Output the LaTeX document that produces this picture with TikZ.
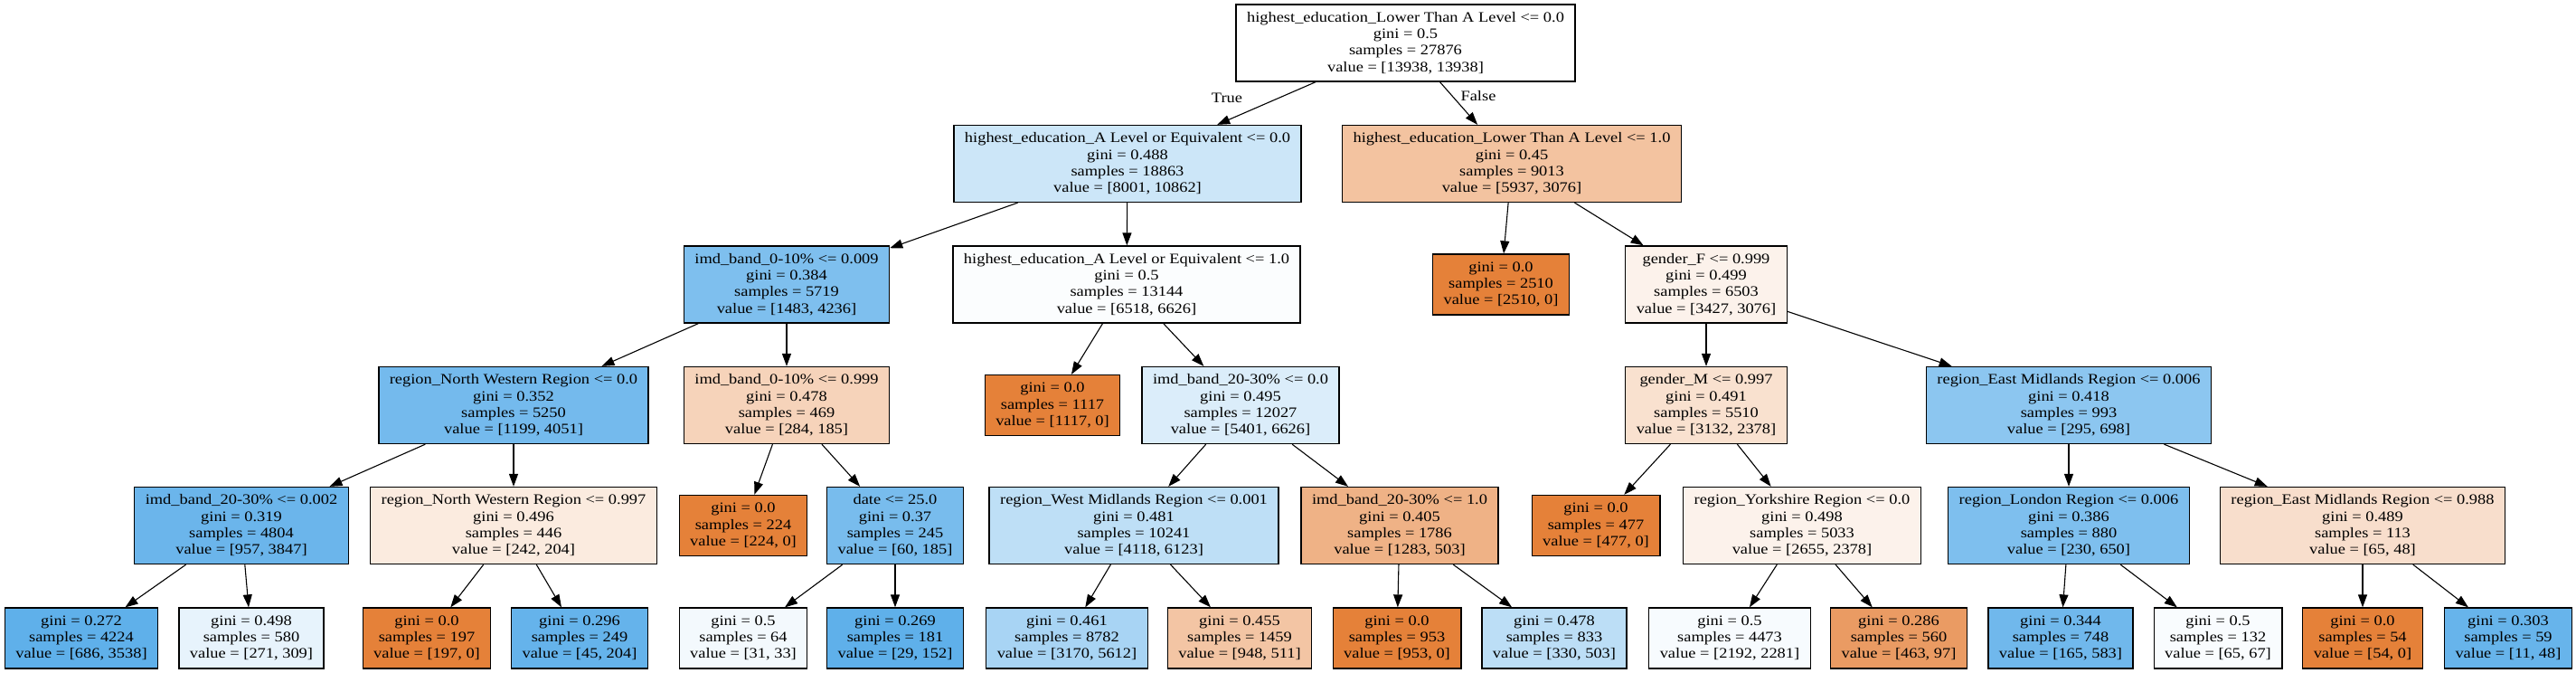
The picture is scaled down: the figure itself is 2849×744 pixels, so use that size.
\documentclass[tikz,border=0pt]{standalone}
\usepackage{fontspec}
\setmainfont{Liberation Serif}[FakeStretch=1.15]
\usepackage{xcolor}
\usepackage{tikz}
\usetikzlibrary{arrows.meta}
\definecolor{orangeclass}{RGB}{229,129,57}
\definecolor{blueclass}{RGB}{57,157,229}

\begin{document}
\begin{tikzpicture}[x=1pt, y=-1pt,
    decision/.style={draw, line width=1.3pt, align=center, inner xsep=12pt, inner ysep=0pt, minimum height=85pt, font=\fontsize{16}{18.3}\selectfont},
    leafbox/.style={decision, minimum height=67pt},
    branch/.style={line width=1.1pt, -{Triangle[length=14pt, width=10pt]}}]
    \useasboundingbox (0,0) rectangle (2849,744);

    % Root
    \node[decision, fill=white] (root) at (1554.5,47.5) {highest\_education\_Lower Than A Level <= 0.0\\gini = 0.5\\samples = 27876\\value = [13938, 13938]};

    % Depth 1
    \node[decision, fill=blueclass!26] (aleq) at (1247,181) {highest\_education\_A Level or Equivalent <= 0.0\\gini = 0.488\\samples = 18863\\value = [8001, 10862]};
    \node[decision, fill=orangeclass!48] (lower) at (1672,181) {highest\_education\_Lower Than A Level <= 1.0\\gini = 0.45\\samples = 9013\\value = [5937, 3076]};

    % Depth 2
    \node[decision, fill=blueclass!65] (imdlow) at (870,314.5) {imd\_band\_0-10\% <= 0.009\\gini = 0.384\\samples = 5719\\value = [1483, 4236]};
    \node[decision, fill=blueclass!2] (aleqb) at (1246,314.5) {highest\_education\_A Level or Equivalent <= 1.0\\gini = 0.5\\samples = 13144\\value = [6518, 6626]};
    \node[leafbox, fill=orangeclass] (leafa) at (1660,314.5) {gini = 0.0\\samples = 2510\\value = [2510, 0]};
    \node[decision, fill=orangeclass!10] (genderf) at (1887,314.5) {gender\_F <= 0.999\\gini = 0.499\\samples = 6503\\value = [3427, 3076]};

    % Depth 3
    \node[decision, fill=blueclass!70] (nwest) at (568,448) {region\_North Western Region <= 0.0\\gini = 0.352\\samples = 5250\\value = [1199, 4051]};
    \node[decision, fill=orangeclass!35] (imdhigh) at (870,448) {imd\_band\_0-10\% <= 0.999\\gini = 0.478\\samples = 469\\value = [284, 185]};
    \node[leafbox, fill=orangeclass] (leafb) at (1164,448) {gini = 0.0\\samples = 1117\\value = [1117, 0]};
    \node[decision, fill=blueclass!18] (imdmid) at (1372,448) {imd\_band\_20-30\% <= 0.0\\gini = 0.495\\samples = 12027\\value = [5401, 6626]};
    \node[decision, fill=orangeclass!24] (genderm) at (1887,448) {gender\_M <= 0.997\\gini = 0.491\\samples = 5510\\value = [3132, 2378]};
    \node[decision, fill=blueclass!58] (emid) at (2288,448) {region\_East Midlands Region <= 0.006\\gini = 0.418\\samples = 993\\value = [295, 698]};

    % Depth 4
    \node[decision, fill=blueclass!75] (imdtwo) at (267,581) {imd\_band\_20-30\% <= 0.002\\gini = 0.319\\samples = 4804\\value = [957, 3847]};
    \node[decision, fill=orangeclass!16] (nwestb) at (568,581) {region\_North Western Region <= 0.997\\gini = 0.496\\samples = 446\\value = [242, 204]};
    \node[leafbox, fill=orangeclass] (leafc) at (822,581) {gini = 0.0\\samples = 224\\value = [224, 0]};
    \node[decision, fill=blueclass!68] (date) at (990,581) {date <= 25.0\\gini = 0.37\\samples = 245\\value = [60, 185]};
    \node[decision, fill=blueclass!33] (wmid) at (1254,581) {region\_West Midlands Region <= 0.001\\gini = 0.481\\samples = 10241\\value = [4118, 6123]};
    \node[decision, fill=orangeclass!61] (imdthree) at (1548,581) {imd\_band\_20-30\% <= 1.0\\gini = 0.405\\samples = 1786\\value = [1283, 503]};
    \node[leafbox, fill=orangeclass] (leafd) at (1765,581) {gini = 0.0\\samples = 477\\value = [477, 0]};
    \node[decision, fill=orangeclass!10] (york) at (1993,581) {region\_Yorkshire Region <= 0.0\\gini = 0.498\\samples = 5033\\value = [2655, 2378]};
    \node[decision, fill=blueclass!65] (london) at (2288,581) {region\_London Region <= 0.006\\gini = 0.386\\samples = 880\\value = [230, 650]};
    \node[decision, fill=orangeclass!26] (emidb) at (2613,581) {region\_East Midlands Region <= 0.988\\gini = 0.489\\samples = 113\\value = [65, 48]};

    % Leaves
    \node[leafbox, fill=blueclass!81] (lone) at (90,705.5) {gini = 0.272\\samples = 4224\\value = [686, 3538]};
    \node[leafbox, fill=blueclass!12] (ltwo) at (278,705.5) {gini = 0.498\\samples = 580\\value = [271, 309]};
    \node[leafbox, fill=orangeclass] (lthree) at (472,705.5) {gini = 0.0\\samples = 197\\value = [197, 0]};
    \node[leafbox, fill=blueclass!78] (lfour) at (641,705.5) {gini = 0.296\\samples = 249\\value = [45, 204]};
    \node[leafbox, fill=blueclass!6] (lfive) at (822,705.5) {gini = 0.5\\samples = 64\\value = [31, 33]};
    \node[leafbox, fill=blueclass!81] (lsix) at (990,705.5) {gini = 0.269\\samples = 181\\value = [29, 152]};
    \node[leafbox, fill=blueclass!44] (lseven) at (1180,705.5) {gini = 0.461\\samples = 8782\\value = [3170, 5612]};
    \node[leafbox, fill=orangeclass!46] (leight) at (1371,705.5) {gini = 0.455\\samples = 1459\\value = [948, 511]};
    \node[leafbox, fill=orangeclass] (lnine) at (1545,705.5) {gini = 0.0\\samples = 953\\value = [953, 0]};
    \node[leafbox, fill=blueclass!34] (lten) at (1719,705.5) {gini = 0.478\\samples = 833\\value = [330, 503]};
    \node[leafbox, fill=blueclass!4] (leleven) at (1913,705.5) {gini = 0.5\\samples = 4473\\value = [2192, 2281]};
    \node[leafbox, fill=orangeclass!79] (ltwelve) at (2100,705.5) {gini = 0.286\\samples = 560\\value = [463, 97]};
    \node[leafbox, fill=blueclass!72] (lthirteen) at (2279,705.5) {gini = 0.344\\samples = 748\\value = [165, 583]};
    \node[leafbox, fill=blueclass!3] (lfourteen) at (2453,705.5) {gini = 0.5\\samples = 132\\value = [65, 67]};
    \node[leafbox, fill=orangeclass] (lfifteen) at (2613,705.5) {gini = 0.0\\samples = 54\\value = [54, 0]};
    \node[leafbox, fill=blueclass!77] (lsixteen) at (2774,705.5) {gini = 0.303\\samples = 59\\value = [11, 48]};

    % Branches
    \draw[branch] (root) -- (aleq);
    \draw[branch] (root) -- (lower);
    \node[font=\fontsize{16}{18.3}\selectfont] (truelabel) at (1357,108) {True};
    \node[font=\fontsize{16}{18.3}\selectfont] (falselabel) at (1635,106) {False};
    \draw[branch] (aleq) -- (imdlow);
    \draw[branch] (aleq) -- (aleqb);
    \draw[branch] (lower) -- (leafa);
    \draw[branch] (lower) -- (genderf);
    \draw[branch] (imdlow) -- (nwest);
    \draw[branch] (imdlow) -- (imdhigh);
    \draw[branch] (aleqb) -- (leafb);
    \draw[branch] (aleqb) -- (imdmid);
    \draw[branch] (genderf) -- (genderm);
    \draw[branch] (genderf) -- (emid);
    \draw[branch] (nwest) -- (imdtwo);
    \draw[branch] (nwest) -- (nwestb);
    \draw[branch] (imdhigh) -- (leafc);
    \draw[branch] (imdhigh) -- (date);
    \draw[branch] (imdmid) -- (wmid);
    \draw[branch] (imdmid) -- (imdthree);
    \draw[branch] (genderm) -- (leafd);
    \draw[branch] (genderm) -- (york);
    \draw[branch] (emid) -- (london);
    \draw[branch] (emid) -- (emidb);
    \draw[branch] (imdtwo) -- (lone);
    \draw[branch] (imdtwo) -- (ltwo);
    \draw[branch] (nwestb) -- (lthree);
    \draw[branch] (nwestb) -- (lfour);
    \draw[branch] (date) -- (lfive);
    \draw[branch] (date) -- (lsix);
    \draw[branch] (wmid) -- (lseven);
    \draw[branch] (wmid) -- (leight);
    \draw[branch] (imdthree) -- (lnine);
    \draw[branch] (imdthree) -- (lten);
    \draw[branch] (york) -- (leleven);
    \draw[branch] (york) -- (ltwelve);
    \draw[branch] (london) -- (lthirteen);
    \draw[branch] (london) -- (lfourteen);
    \draw[branch] (emidb) -- (lfifteen);
    \draw[branch] (emidb) -- (lsixteen);
\end{tikzpicture}
\end{document}
